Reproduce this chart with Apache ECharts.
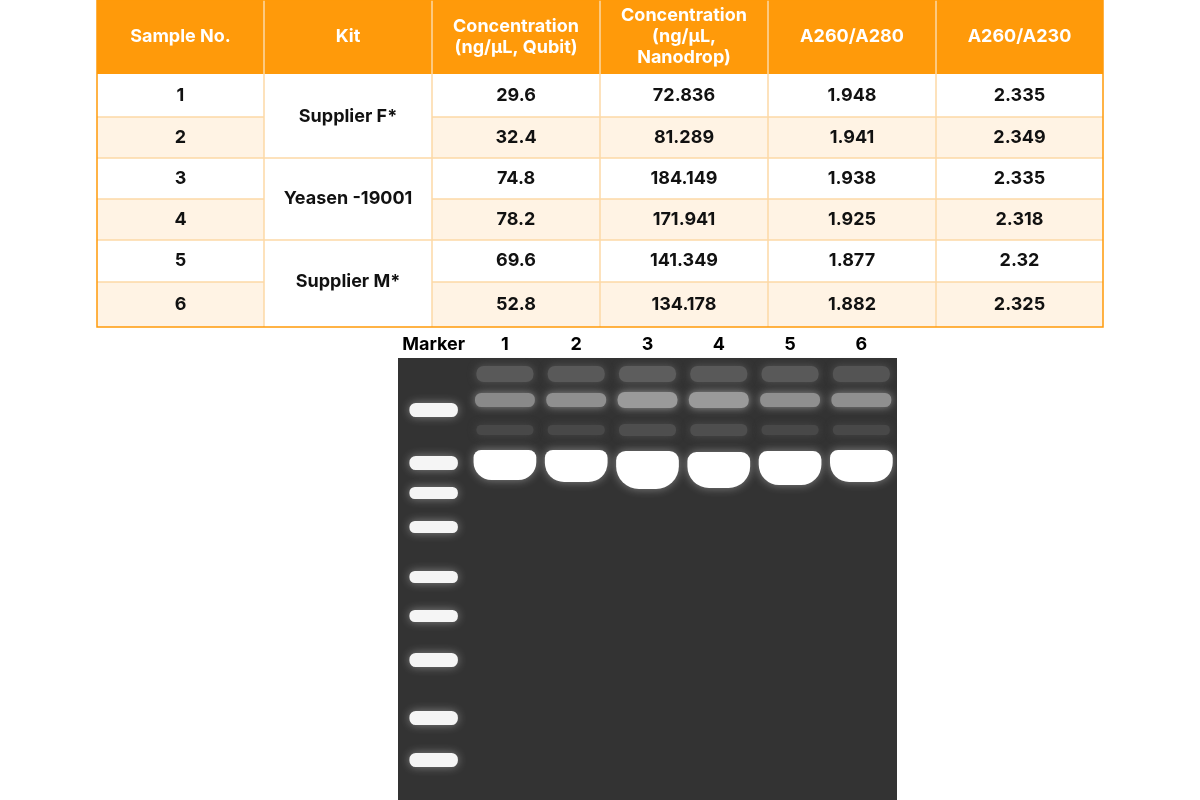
<!DOCTYPE html>
<html><head><meta charset="utf-8">
<script src="https://cdn.jsdelivr.net/npm/echarts@6/dist/echarts.min.js"></script>
<style>html,body{margin:0;background:#fff}#c{width:1200px;height:800px}</style>
</head><body><div id="c"></div>
<script>
const headers = ['Sample No.', 'Kit', 'Concentration\n(ng/μL, Qubit)', 'Concentration\n(ng/μL,\nNanodrop)', 'A260/A280', 'A260/A230'];
const sampleNo = ['1','2','3','4','5','6'];
const kits = ['Supplier F*', 'Yeasen -19001', 'Supplier M*'];
const qubit = ['29.6','32.4','74.8','78.2','69.6','52.8'];
const nanodrop = ['72.836','81.289','184.149','171.941','141.349','134.178'];
const a280 = ['1.948','1.941','1.938','1.925','1.877','1.882'];
const a230 = ['2.335','2.349','2.335','2.318','2.32','2.325'];
const lanes = ['Marker','1','2','3','4','5','6'];
// gel bands: [lane, migration (px from well), thickness, brightness]
const markerBands = [[0,52,14],[0,105,14],[0,135,12],[0,169,12],[0,219,12],[0,258,12],[0,302,14],[0,360,14],[0,402,14]];
const mainBands = [[1,107,30],[2,108,32],[3,112,38],[4,112,36],[5,110,34],[6,108,32]];
const upperBands = [[1,42,14,0.42],[2,42,14,0.45],[3,42,16,0.5],[4,42,16,0.5],[5,42,14,0.45],[6,42,14,0.45]];
const topBands = [[1,16,16,0.18],[2,16,16,0.18],[3,16,16,0.2],[4,16,16,0.18],[5,16,16,0.18],[6,16,16,0.16]];
const faintBands = [[1,72,10,0.1],[2,72,10,0.1],[3,72,12,0.13],[4,72,12,0.13],[5,72,10,0.1],[6,72,10,0.1]];

const colX = [97,264,432,600,768,936,1103];
const rowY = [0,74,117,158,199,240,282,327];
const g = [];
const font = '"Inter","Roboto",sans-serif';
g.push({type:'rect',shape:{x:colX[0],y:0,width:colX[6]-colX[0],height:rowY[1]},style:{fill:'#FF9A0A'}});
for(let r=0;r<6;r++){
  g.push({type:'rect',shape:{x:colX[0],y:rowY[r+1],width:colX[6]-colX[0],height:rowY[r+2]-rowY[r+1]},style:{fill:r%2?'#FFF3E4':'#FFFFFF'}});
}
for(let k=0;k<3;k++){
  g.push({type:'rect',shape:{x:colX[1],y:rowY[1+2*k],width:colX[2]-colX[1],height:rowY[3+2*k]-rowY[1+2*k]},style:{fill:'#FFFFFF'}});
}
for(let i=1;i<6;i++) g.push({type:'line',shape:{x1:colX[i],y1:0,x2:colX[i],y2:rowY[7]},style:{stroke:'#FCD9A6',lineWidth:1.5}});
for(let r=2;r<7;r++){
  const segs = (r%2===0)?[[colX[0],colX[1]],[colX[2],colX[6]]]:[[colX[0],colX[6]]];
  segs.forEach(s=>g.push({type:'line',shape:{x1:s[0],y1:rowY[r],x2:s[1],y2:rowY[r]},style:{stroke:'#FCD9A6',lineWidth:1.5}}));
}
g.push({type:'rect',shape:{x:colX[0],y:0,width:colX[6]-colX[0],height:rowY[7]},style:{fill:null,stroke:'#FF9A0A',lineWidth:1.5}});
headers.forEach((h,i)=>g.push({type:'text',x:(colX[i]+colX[i+1])/2,y:rowY[1]/2,style:{text:h,fill:'#fff',font:'bold 18px '+font,align:'center',verticalAlign:'middle',lineHeight:21}}));
const cols = [sampleNo,null,qubit,nanodrop,a280,a230];
for(let r=0;r<6;r++){
  const cy=(rowY[r+1]+rowY[r+2])/2;
  cols.forEach((c,i)=>{ if(!c) return;
    g.push({type:'text',x:(colX[i]+colX[i+1])/2,y:cy,style:{text:c[r],fill:'#111',font:'bold 18px '+font,align:'center',verticalAlign:'middle'}});
  });
}
kits.forEach((k,i)=>g.push({type:'text',x:(colX[1]+colX[2])/2,y:rowY[2+2*i],style:{text:k,fill:'#111',font:'bold 18px '+font,align:'center',verticalAlign:'middle'}}));

function bandItem(params, api){
  const lane=api.value(0), y=api.value(1), h=api.value(2), b=api.value(3), wf=api.value(4), smile=api.value(5);
  const c=api.coord([lane,y]); const cw=api.size([1,0])[0]*wf;
  const hp=api.size([0,h])[1];
  const v=Math.round(52+203*b);
  return {type:'rect',shape:{x:c[0]-cw/2,y:c[1]-hp/2,width:cw,height:hp,r:smile?[hp*0.25,hp*0.25,hp*0.6,hp*0.6]:[hp*0.45,hp*0.45,hp*0.45,hp*0.45]},
    style:{fill:'rgb('+v+','+v+','+v+')',shadowBlur:b>0.8?10:8,shadowColor:b>0.8?'rgba(255,255,255,0.4)':'rgb('+v+','+v+','+v+')'}};
}
const mk=(arr,def,wf,smile)=>arr.map(a=>[a[0],a[1],a[2],a[3]!==undefined?a[3]:def,wf,smile]);
const chart=echarts.init(document.getElementById('c'));
chart.setOption({
  animation:false,
  graphic:g,
  grid:{left:398,width:499,top:358,height:442,show:true,backgroundColor:'#333333',borderWidth:0},
  xAxis:{type:'category',data:lanes,position:'top',axisLine:{show:false},axisTick:{show:false},splitLine:{show:false},
    axisLabel:{interval:0,color:'#000',fontWeight:'bold',fontSize:18,fontFamily:font,margin:4}},
  yAxis:{type:'value',min:0,max:442,inverse:true,show:false,splitLine:{show:false}},
  series:[
    {type:'custom',renderItem:bandItem,data:mk(topBands,0.2,0.8,false),encode:{x:0,y:1},silent:true},
    {type:'custom',renderItem:bandItem,data:mk(faintBands,0.1,0.8,false),encode:{x:0,y:1},silent:true},
    {type:'custom',renderItem:bandItem,data:mk(upperBands,0.45,0.84,false),encode:{x:0,y:1},silent:true},
    {type:'custom',renderItem:bandItem,data:mk(markerBands,0.95,0.68,false),encode:{x:0,y:1},silent:true},
    {type:'custom',renderItem:bandItem,data:mk(mainBands,1,0.88,true),encode:{x:0,y:1},silent:true}
  ]
});
</script></body></html>
